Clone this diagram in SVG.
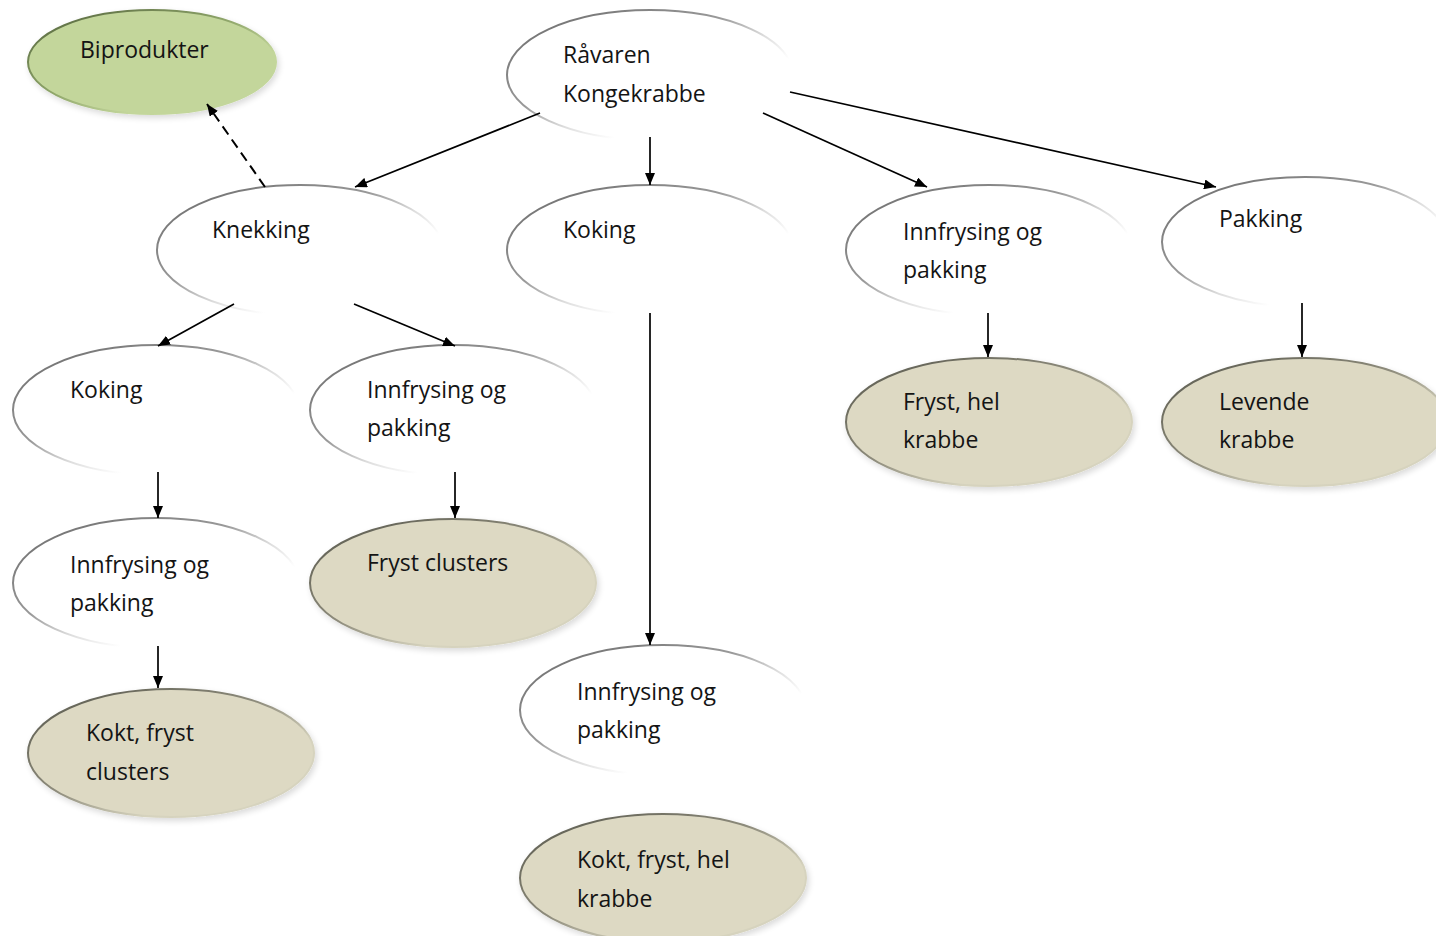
<svg xmlns="http://www.w3.org/2000/svg" width="1436" height="936" viewBox="0 0 1436 936">
<defs>
<linearGradient id="gw" x1="0" y1="0" x2="1" y2="1">
<stop offset="0" stop-color="#666"/>
<stop offset="0.4" stop-color="#999"/>
<stop offset="0.55" stop-color="#ddd"/>
<stop offset="0.68" stop-color="#fff"/>
</linearGradient>
<linearGradient id="gf" x1="0" y1="0" x2="1" y2="1">
<stop offset="0" stop-color="#55554a"/>
<stop offset="0.45" stop-color="#8e8c7c"/>
<stop offset="0.7" stop-color="#d6d3be"/>
</linearGradient>
<linearGradient id="gg" x1="0" y1="0" x2="1" y2="1">
<stop offset="0" stop-color="#50603a"/>
<stop offset="0.45" stop-color="#8fa66a"/>
<stop offset="0.7" stop-color="#c3d69b"/>
</linearGradient>
<filter id="sh" x="-10%" y="-10%" width="125%" height="130%">
<feGaussianBlur in="SourceAlpha" stdDeviation="3"/>
<feOffset dx="2" dy="3" result="b"/>
<feComponentTransfer><feFuncA type="linear" slope="0.15"/></feComponentTransfer>
<feMerge><feMergeNode/><feMergeNode in="SourceGraphic"/></feMerge>
</filter>
<marker id="ah" viewBox="0 0 12 10" refX="12" refY="5" markerWidth="12" markerHeight="10" markerUnits="userSpaceOnUse" orient="auto">
<path d="M0,0 L12,5 L0,10 z" fill="#000"/>
</marker>
</defs>
<style>
.w{fill:#fff;stroke:url(#gw);stroke-width:2}
.f{fill:#ddd9c3;stroke:url(#gf);stroke-width:2;filter:url(#sh)}
.g{fill:#c3d69b;stroke:url(#gg);stroke-width:2;filter:url(#sh)}
text{font-family:"Open Sans","Liberation Sans",sans-serif;font-size:23px;fill:#141414}
.c line{stroke:#000;stroke-width:1.7;marker-end:url(#ah)}
.c line.d{stroke-width:2;stroke-dasharray:10,6}
</style>
<rect width="1436" height="936" fill="#fff"/>
<g id="n-biprodukter"><ellipse class="g" cx="152" cy="62" rx="124" ry="52"/><text x="80" y="58">Biprodukter</text></g>
<g id="n-ravaren"><ellipse class="w" cx="650" cy="75" rx="143" ry="65"/><text x="563" y="63">Råvaren</text><text x="563" y="102">Kongekrabbe</text></g>
<g id="n-knekking"><ellipse class="w" cx="300" cy="250" rx="143" ry="65"/><text x="212" y="238">Knekking</text></g>
<g id="n-koking1"><ellipse class="w" cx="650" cy="250" rx="143" ry="65"/><text x="563" y="238">Koking</text></g>
<g id="n-innfrysing1"><ellipse class="w" cx="989" cy="250" rx="143" ry="65"/><text x="903" y="240">Innfrysing og</text><text x="903" y="278">pakking</text></g>
<g id="n-pakking"><ellipse class="w" cx="1305" cy="242" rx="143" ry="65"/><text x="1219" y="227">Pakking</text></g>
<g id="n-koking2"><ellipse class="w" cx="156" cy="410" rx="143" ry="65"/><text x="70" y="398">Koking</text></g>
<g id="n-innfrysing2"><ellipse class="w" cx="453" cy="410" rx="143" ry="65"/><text x="367" y="398">Innfrysing og</text><text x="367" y="436">pakking</text></g>
<g id="n-fryst-hel"><ellipse class="f" cx="989" cy="422" rx="143" ry="64"/><text x="903" y="410">Fryst, hel</text><text x="903" y="448">krabbe</text></g>
<g id="n-levende"><ellipse class="f" cx="1305" cy="422" rx="143" ry="64"/><text x="1219" y="410">Levende</text><text x="1219" y="448">krabbe</text></g>
<g id="n-innfrysing3"><ellipse class="w" cx="156" cy="583" rx="143" ry="65"/><text x="70" y="573">Innfrysing og</text><text x="70" y="611">pakking</text></g>
<g id="n-fryst-clusters"><ellipse class="f" cx="453" cy="583" rx="143" ry="64"/><text x="367" y="571">Fryst clusters</text></g>
<g id="n-innfrysing4"><ellipse class="w" cx="663" cy="710" rx="143" ry="65"/><text x="577" y="700">Innfrysing og</text><text x="577" y="738">pakking</text></g>
<g id="n-kokt-clusters"><ellipse class="f" cx="171" cy="753" rx="143" ry="64"/><text x="86" y="741">Kokt, fryst</text><text x="86" y="780">clusters</text></g>
<g id="n-kokt-hel"><ellipse class="f" cx="663" cy="878" rx="143" ry="64"/><text x="577" y="868">Kokt, fryst, hel</text><text x="577" y="907">krabbe</text></g>
<g id="connectors" class="c">
<line x1="540" y1="113" x2="355" y2="187"/>
<line x1="650" y1="137" x2="650" y2="185"/>
<line x1="763" y1="113" x2="927" y2="187"/>
<line x1="790" y1="92" x2="1216" y2="187"/>
<line class="d" x1="265" y1="187" x2="207" y2="104"/>
<line x1="234" y1="304" x2="158" y2="346"/>
<line x1="354" y1="304" x2="455" y2="346"/>
<line x1="158" y1="472" x2="158" y2="518"/>
<line x1="455" y1="472" x2="455" y2="518"/>
<line x1="158" y1="646" x2="158" y2="688"/>
<line x1="650" y1="313" x2="650" y2="645"/>
<line x1="988" y1="313" x2="988" y2="357"/>
<line x1="1302" y1="303" x2="1302" y2="357"/>
</g>
</svg>
